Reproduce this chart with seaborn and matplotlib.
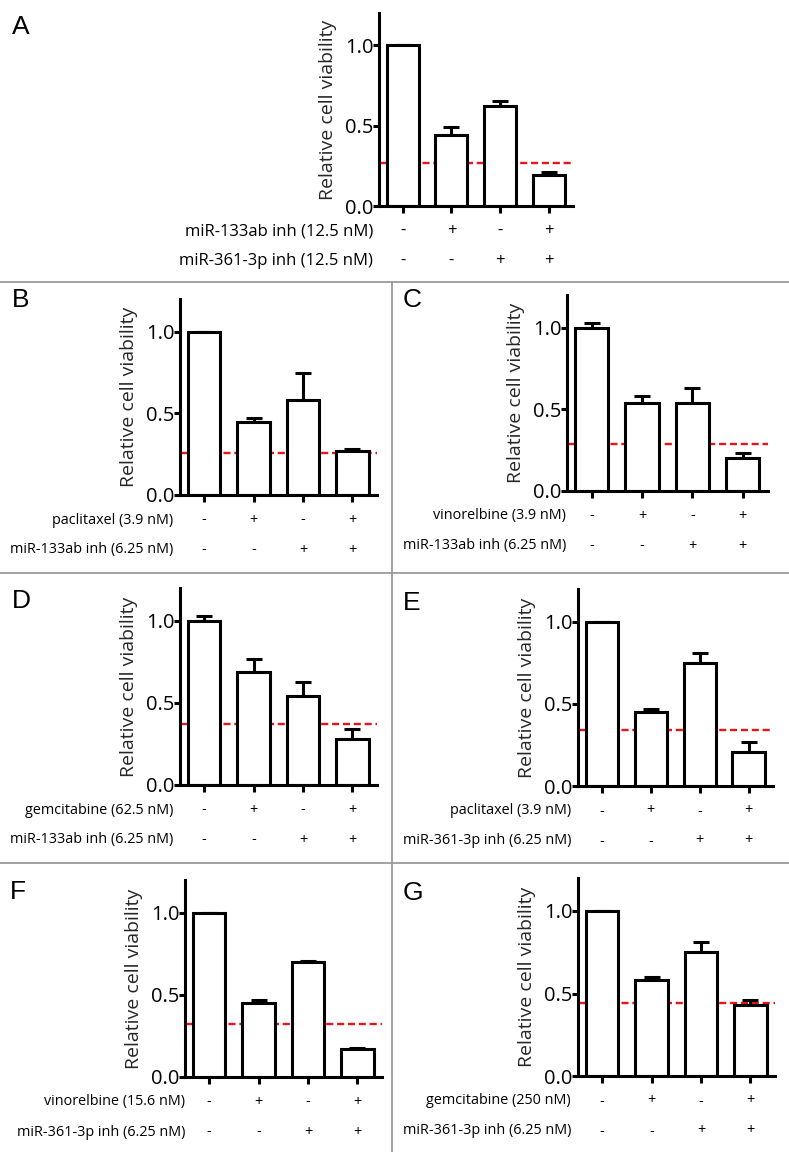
import matplotlib
matplotlib.use("Agg")
import matplotlib.pyplot as plt
import seaborn as sns
import pandas as pd
import numpy as np
from matplotlib.lines import Line2D

sns.set_theme(style="white")
plt.rcParams['font.family'] = ['Open Sans', 'DejaVu Sans']

W, H = 789, 1152

conditions = ["c1", "c2", "c3", "c4"]
signs_row1 = ["-", "+", "-", "+"]
signs_row2 = ["-", "-", "+", "+"]

A_labels = ["miR-133ab inh (12.5 nM)", "miR-361-3p inh (12.5 nM)"]
A_vals = [1.0, 0.44, 0.62, 0.19]
A_err = [0.0, 0.05, 0.03, 0.02]
A_ref = 0.27

B_labels = ["paclitaxel (3.9 nM)", "miR-133ab inh (6.25 nM)"]
B_vals = [1.0, 0.45, 0.58, 0.27]
B_err = [0.0, 0.02, 0.17, 0.01]
B_ref = 0.26

C_labels = ["vinorelbine (3.9 nM)", "miR-133ab inh (6.25 nM)"]
C_vals = [1.0, 0.54, 0.54, 0.20]
C_err = [0.03, 0.04, 0.09, 0.03]
C_ref = 0.29

D_labels = ["gemcitabine (62.5 nM)", "miR-133ab inh (6.25 nM)"]
D_vals = [1.0, 0.69, 0.54, 0.28]
D_err = [0.03, 0.08, 0.09, 0.06]
D_ref = 0.37

E_labels = ["paclitaxel (3.9 nM)", "miR-361-3p inh (6.25 nM)"]
E_vals = [1.0, 0.45, 0.75, 0.21]
E_err = [0.0, 0.02, 0.06, 0.06]
E_ref = 0.34

F_labels = ["vinorelbine (15.6 nM)", "miR-361-3p inh (6.25 nM)"]
F_vals = [1.0, 0.45, 0.70, 0.17]
F_err = [0.0, 0.02, 0.005, 0.005]
F_ref = 0.32

G_labels = ["gemcitabine (250 nM)", "miR-361-3p inh (6.25 nM)"]
G_vals = [1.0, 0.58, 0.75, 0.43]
G_err = [0.0, 0.02, 0.06, 0.03]
G_ref = 0.44

yticks = [0.0, 0.5, 1.0]
ytick_labels = ["0.0", "0.5", "1.0"]
ylabel = "Relative cell viability"

fig = plt.figure(figsize=(W / 100, H / 100), dpi=100)
fig.patch.set_facecolor("white")

LW = 2.2


def make_axes(left, right, top, bottom):
    return fig.add_axes([left / W, 1 - bottom / H, (right - left) / W, (bottom - top) / H])


def panel(box, letter, letter_xy, vals, err, ref, labels, big=False, lab_dx=-7):
    left, right, top, bottom = box
    ax = make_axes(left, right, top, bottom)
    df = pd.DataFrame({"cond": conditions, "val": vals})
    ax.axhline(ref, color="#e8141b", linestyle=(0, (3.0, 1.6)), linewidth=1.7, zorder=0.5)
    sns.barplot(data=df, x="cond", y="val", ax=ax, color="white", edgecolor="black",
                linewidth=LW, width=0.66, errorbar=None, saturation=1, zorder=2)
    xs = np.arange(len(vals))
    lower = np.zeros(len(vals))
    ax.errorbar(xs, vals, yerr=[lower, err], fmt="none", ecolor="black",
                elinewidth=LW, capsize=6, capthick=LW, zorder=1)
    ax.set_xlim(-0.49, 3.5)
    ax.set_ylim(0, 1.2)
    ax.set_yticks(yticks)
    ax.set_yticklabels(ytick_labels)
    ax.set_xticks(xs)
    ax.set_xticklabels([])
    ax.set_xlabel("")
    ax.set_ylabel(ylabel, fontsize=14, labelpad=6)
    ax.tick_params(axis="y", direction="out", length=4, width=LW, labelsize=14.5, pad=0,
                   left=True, colors="black")
    ax.tick_params(axis="x", direction="out", length=5, width=LW, bottom=True, colors="black")
    for s in ["top", "right"]:
        ax.spines[s].set_visible(False)
    for s in ["left", "bottom"]:
        ax.spines[s].set_linewidth(LW)
        ax.spines[s].set_color("black")
    ax.set_facecolor("none")
    h = bottom - top
    rows_px = [25, 55]
    fs = 12 if big else 10.4
    trans = ax.get_xaxis_transform()
    for r, (lab, signs) in enumerate(zip(labels, [signs_row1, signs_row2])):
        yf = -rows_px[r] / h
        ax.text(lab_dx / (right - left), yf, lab, transform=ax.transAxes, ha="right",
                va="center", fontsize=fs, color="black")
        for xi, sg in zip(xs, signs):
            ax.text(xi, yf, sg, transform=trans, ha="center", va="center", fontsize=fs,
                    color="black")
    fig.text(letter_xy[0] / W, 1 - letter_xy[1] / H, letter, fontsize=19,
             family="Liberation Sans", ha="left", va="center", color="black")
    return ax


panel((379, 573, 13, 206), "A", (12, 27), A_vals, A_err, A_ref, A_labels, big=True, lab_dx=-6)
panel((180, 377, 299, 495), "B", (12, 300), B_vals, B_err, B_ref, B_labels)
panel((567, 768, 295, 491), "C", (403, 300), C_vals, C_err, C_ref, C_labels, lab_dx=-1)
panel((180, 377, 588, 785), "D", (12, 601), D_vals, D_err, D_ref, D_labels)
panel((578, 773, 589, 786), "E", (403, 603), E_vals, E_err, E_ref, E_labels, lab_dx=-7)
panel((185, 382, 880, 1077), "F", (10, 892), F_vals, F_err, F_ref, F_labels, lab_dx=0)
panel((578, 775, 878, 1076), "G", (403, 893), G_vals, G_err, G_ref, G_labels, lab_dx=-7)

sep = "#9a9a9a"
for yy in [282, 573, 863]:
    fig.add_artist(Line2D([0, 1], [1 - yy / H, 1 - yy / H], color=sep, linewidth=1.3,
                          transform=fig.transFigure))
fig.add_artist(Line2D([391.5 / W, 391.5 / W], [1 - 282 / H, 0], color=sep, linewidth=1.3,
                      transform=fig.transFigure))

fig.savefig("out.png", dpi=100, facecolor="white")
